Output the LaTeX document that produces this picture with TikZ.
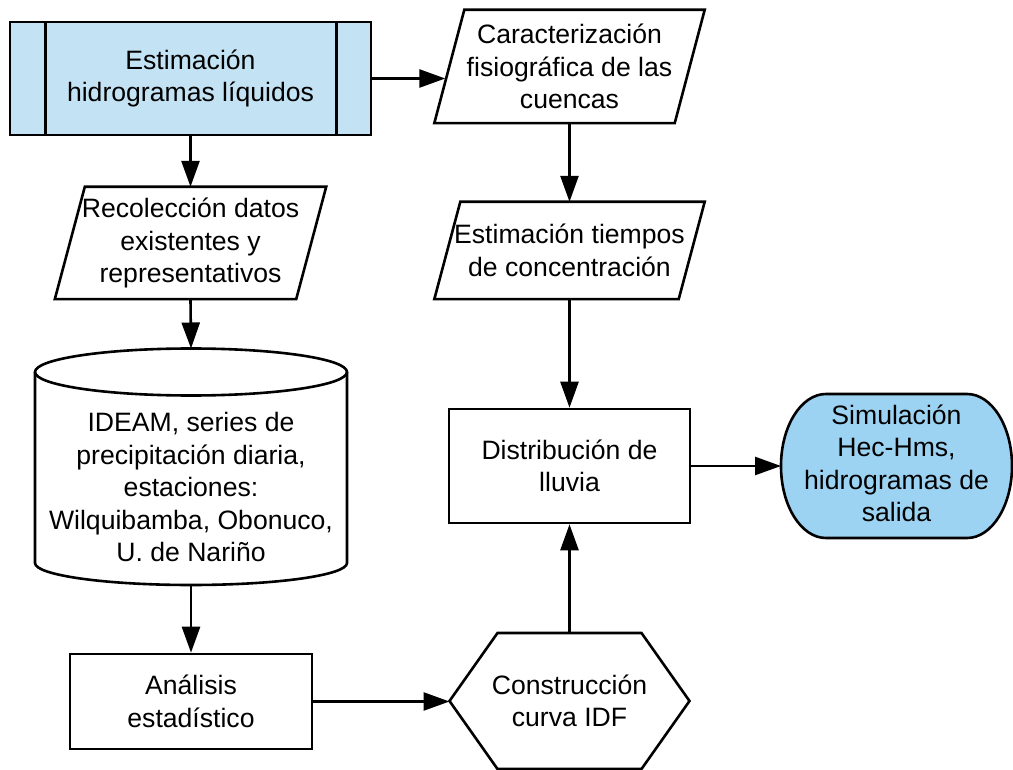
\documentclass[tikz,border=0pt]{standalone}
\usepackage{fontspec}
\setmainfont{Liberation Sans}
\usetikzlibrary{arrows.meta}
\definecolor{topblue}{RGB}{195,227,245}
\definecolor{simblue}{RGB}{157,211,242}
\begin{document}
\begin{tikzpicture}[x=1pt,y=1pt,
  outline/.style={draw=black, line width=2.6pt, line join=miter},
  conn/.style={draw=black, line width=2.6pt, -{Triangle[length=26pt,width=18pt]}},
  txt/.style={font=\fontsize{26.6}{32.5}\selectfont, align=center, inner sep=0pt, text=black},
  boxnode/.style={txt, draw=black, line width=2.6pt},
]
\useasboundingbox (0,0) rectangle (1013,-770);

% top predefined-process box
\node[boxnode, fill=topblue, minimum width=361pt, minimum height=113pt] (top) at (190.5,-78.5) {Estimación\\hidrogramas líquidos};
\draw[outline] ([xshift=37pt]top.north west) -- ([xshift=37pt]top.south west);
\draw[outline] ([xshift=-36pt]top.north east) -- ([xshift=-36pt]top.south east);

% parallelograms
\node[txt, minimum width=271pt, minimum height=112pt] (rec) at (190.5,-243) {Recolección datos\\existentes y\\representativos};
\draw[outline] ([xshift=30pt]rec.north west) -- (rec.north east) -- ([xshift=-30pt]rec.south east) -- (rec.south west) -- cycle;

\node[txt, minimum width=270pt, minimum height=113pt] (car) at (569.5,-66.5) {Caracterización\\fisiográfica de las\\cuencas};
\draw[outline] ([xshift=30pt]car.north west) -- (car.north east) -- ([xshift=-30pt]car.south east) -- (car.south west) -- cycle;

\node[txt, minimum width=270pt, minimum height=97pt] (est) at (569.5,-250.5) {Estimación tiempos\\de concentración};
\draw[outline] ([xshift=26pt]est.north west) -- (est.north east) -- ([xshift=-26pt]est.south east) -- (est.south west) -- cycle;

% cylinder (database)
\draw[outline] (191,-372) ellipse [x radius=156, y radius=23.5];
\draw[outline] (35,-372) -- (35,-563) arc[start angle=180, end angle=360, x radius=156, y radius=22] -- (347,-372);
\node[txt] (db) at (191,-487) {IDEAM, series de\\precipitación diaria,\\estaciones:\\Wilquibamba, Obonuco,\\U. de Nariño};
\coordinate (dbN) at (191,-348.5);
\coordinate (dbS) at (191,-585);

% process boxes
\node[boxnode, minimum width=242pt, minimum height=95pt] (ana) at (191,-701.5) {Análisis\\estadístico};
\node[boxnode, minimum width=241pt, minimum height=114pt] (dist) at (569.5,-466) {Distribución de\\lluvia};

% hexagon
\draw[outline] (449.5,-701) -- (497.5,-633) -- (641.5,-633) -- (689.5,-701) -- (641.5,-769) -- (497.5,-769) -- cycle;
\node[txt] (hex) at (569.5,-701) {Construcción\\curva IDF};
\coordinate (hexW) at (449.5,-701);
\coordinate (hexN) at (569.5,-633);

% terminator
\draw[outline, fill=simblue] (826,-394) -- (967,-394) arc[start angle=90, end angle=-90, x radius=45, y radius=72] -- (826,-538) arc[start angle=270, end angle=90, x radius=45, y radius=72] -- cycle;
\node[txt] (sim) at (896.5,-463.5) {Simulación\\Hec-Hms,\\hidrogramas de\\salida};
\coordinate (simW) at (781,-468);

% connectors
\draw[conn] (top.south) -- (rec.north);
\draw[conn] (top.east) -- ([xshift=11pt]car.west |- top.east);
\draw[conn] (car.south) -- (est.north);
\draw[conn] (est.south) -- (dist.north);
\draw[conn] (rec.south) -- (dbN);
\draw[conn] (dbS) -- (ana.north);
\draw[conn] (ana.east) -- (ana.east -| hexW);
\draw[conn] (hexN) -- (dist.south);
\draw[conn] (dist.east) -- (dist.east -| simW);
\end{tikzpicture}
\end{document}
